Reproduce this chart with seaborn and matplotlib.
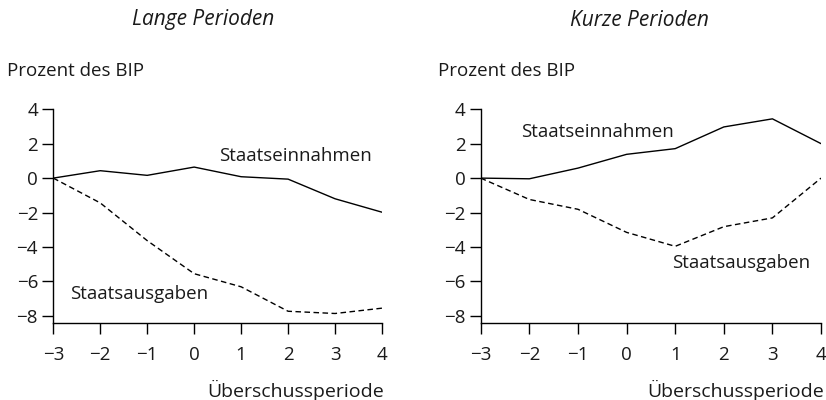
import pandas as pd
import matplotlib
matplotlib.use("Agg")
import matplotlib.pyplot as plt
import seaborn as sns

# Überschussperiode
periods = [-3, -2, -1, 0, 1, 2, 3, 4]

# Lange Perioden (Prozent des BIP)
long_revenue = [0.0, 0.43, 0.16, 0.64, 0.08, -0.06, -1.2, -1.98]
long_spending = [0.0, -1.44, -3.63, -5.55, -6.31, -7.73, -7.86, -7.55]

# Kurze Perioden (Prozent des BIP)
short_revenue = [0.0, -0.04, 0.58, 1.38, 1.71, 2.97, 3.44, 2.0]
short_spending = [0.0, -1.24, -1.81, -3.15, -3.96, -2.82, -2.31, 0.0]

yticks = [4, 2, 0, -2, -4, -6, -8]

sns.set_theme(style="ticks")
plt.rcParams["font.family"] = ["Open Sans", "DejaVu Sans"]
FS = 13.5
TXT = "#1a1a1a"

fig = plt.figure(figsize=(8.26, 4), dpi=100)
ax1 = fig.add_axes([0.0645, 0.193, 0.398, 0.534])
ax2 = fig.add_axes([0.582, 0.193, 0.412, 0.534])

panels = [
    (ax1, long_revenue, long_spending, (0.53, 1.28), (-2.64, -6.72)),
    (ax2, short_revenue, short_spending, (-2.18, 2.66), (0.94, -4.91)),
]

for ax, rev, spend, rev_pos, spend_pos in panels:
    df = pd.DataFrame({"periode": periods, "ein": rev, "aus": spend})
    sns.lineplot(data=df, x="periode", y="ein", ax=ax, color="black", lw=1.0)
    sns.lineplot(data=df, x="periode", y="aus", ax=ax, color="black", lw=1.0,
                 linestyle=(0, (4, 2.5)))
    ax.set_xlim(-3, 4)
    ax.set_ylim(-8.4, 4)
    ax.set_xticks(periods)
    ax.set_yticks(yticks)
    ax.set_xlabel("")
    ax.set_ylabel("")
    ax.spines["top"].set_visible(False)
    ax.spines["right"].set_visible(False)
    for s in ["left", "bottom"]:
        ax.spines[s].set_linewidth(1.0)
        ax.spines[s].set_color("black")
    ax.tick_params(axis="both", length=8, width=1.0, color="black",
                   labelsize=FS, labelcolor=TXT)
    ax.tick_params(axis="x", pad=9)
    ax.tick_params(axis="y", pad=3)
    ax.text(rev_pos[0], rev_pos[1], "Staatseinnahmen", fontsize=FS,
            ha="left", va="center", color=TXT)
    ax.text(spend_pos[0], spend_pos[1], "Staatsausgaben", fontsize=FS,
            ha="left", va="center", color=TXT)

fig.text(203 / 826, 1 - 20 / 400, "Lange Perioden", style="italic",
         ha="center", va="center", fontsize=15, color=TXT)
fig.text(639 / 826, 1 - 20 / 400, "Kurze Perioden", style="italic",
         ha="center", va="center", fontsize=15, color=TXT)
fig.text(7 / 826, 1 - 71 / 400, "Prozent des BIP", ha="left", va="center",
         fontsize=FS, color=TXT)
fig.text(438 / 826, 1 - 71 / 400, "Prozent des BIP", ha="left", va="center",
         fontsize=FS, color=TXT)
fig.text(384 / 826, 1 - 390 / 400, "Überschussperiode", ha="right",
         va="center", fontsize=14, color=TXT)
fig.text(824 / 826, 1 - 390 / 400, "Überschussperiode", ha="right",
         va="center", fontsize=14, color=TXT)

fig.savefig("out.png", dpi=100, facecolor="white")
